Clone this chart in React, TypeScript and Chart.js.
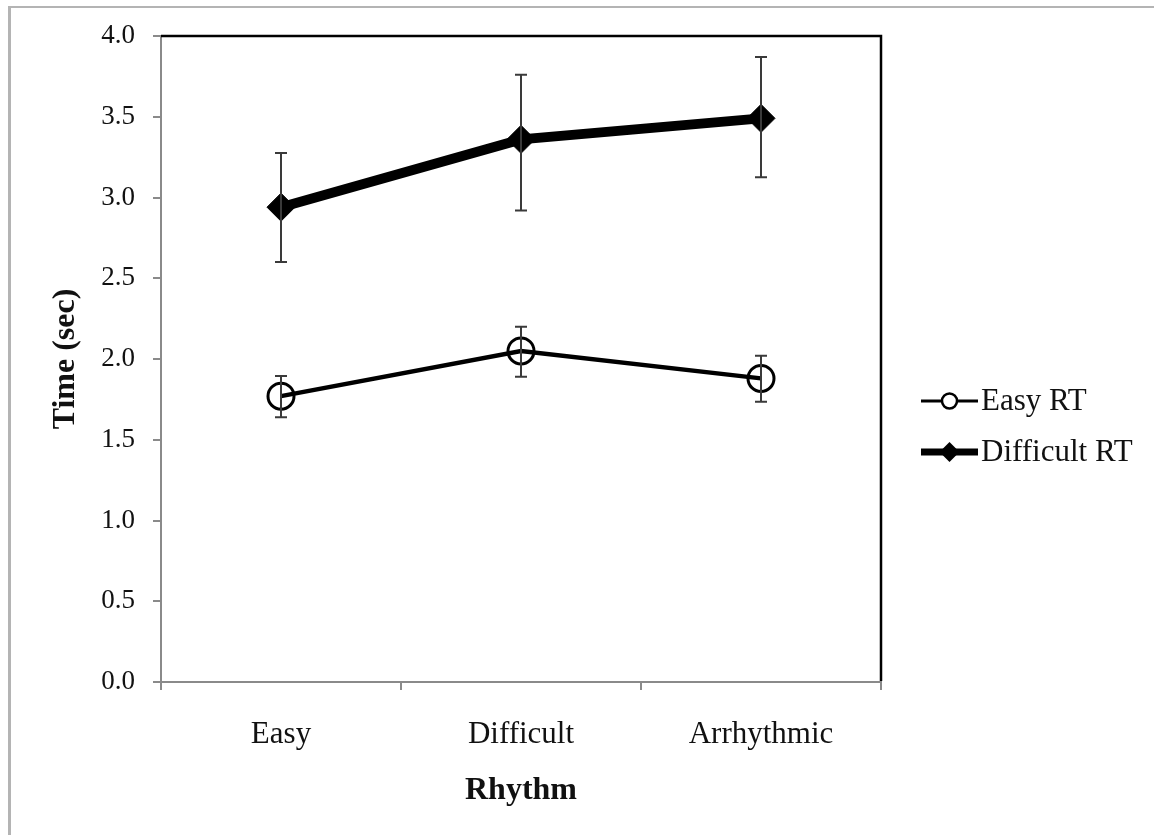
import React, { useEffect, useRef } from "react";
import { Chart, registerables } from "chart.js";

Chart.register(...registerables);

const categories = ["Easy", "Difficult", "Arrhythmic"];
const easyRT = [1.77, 2.05, 1.88];
const easyRTLow = [1.64, 1.89, 1.735];
const easyRTHigh = [1.895, 2.2, 2.02];
const difficultRT = [2.94, 3.36, 3.49];
const difficultRTLow = [2.6, 2.92, 3.125];
const difficultRTHigh = [3.275, 3.76, 3.87];
const seriesNames = ["Easy RT", "Difficult RT"];
const yTitle = "Time (sec)";
const xTitle = "Rhythm";

const FONT = "'Liberation Serif', 'Times New Roman', serif";
const AXIS_GREY = "#8a8a8a";

const errorBars = {
  id: "errorBars",
  afterDatasetsDraw(chart: any) {
    const { ctx, scales } = chart;
    const sets = [
      [easyRTLow, easyRTHigh],
      [difficultRTLow, difficultRTHigh],
    ];
    ctx.save();
    ctx.strokeStyle = "#3a3a3a";
    ctx.lineWidth = 2;
    sets.forEach(([lo, hi]) => {
      categories.forEach((_, i) => {
        const x = scales.x.getPixelForValue(i);
        const y1 = scales.y.getPixelForValue(lo[i]);
        const y2 = scales.y.getPixelForValue(hi[i]);
        ctx.beginPath();
        ctx.moveTo(x, y1);
        ctx.lineTo(x, y2);
        ctx.moveTo(x - 6, y1);
        ctx.lineTo(x + 6, y1);
        ctx.moveTo(x - 6, y2);
        ctx.lineTo(x + 6, y2);
        ctx.stroke();
      });
    });
    ctx.restore();
  },
};

const frame = {
  id: "frame",
  afterDraw(chart: any) {
    const { ctx, chartArea } = chart;
    ctx.save();
    ctx.strokeStyle = "#000";
    ctx.lineWidth = 2.5;
    ctx.beginPath();
    ctx.moveTo(chartArea.left, chartArea.top);
    ctx.lineTo(chartArea.right, chartArea.top);
    ctx.lineTo(chartArea.right, chartArea.bottom - 1);
    ctx.stroke();
    ctx.restore();
  },
};

const customLegend = {
  id: "customLegend",
  afterDraw(chart: any) {
    const { ctx } = chart;
    const x0 = 921;
    const x1 = 978;
    const rows = [401, 452];
    ctx.save();
    chart.data.datasets.forEach((ds: any, i: number) => {
      const y = rows[i];
      ctx.strokeStyle = "#000";
      ctx.lineWidth = i === 0 ? 3 : 7;
      ctx.beginPath();
      ctx.moveTo(x0, y);
      ctx.lineTo(x1, y);
      ctx.stroke();
      const cx = (x0 + x1) / 2;
      ctx.beginPath();
      if (i === 0) {
        ctx.lineWidth = 2.5;
        ctx.fillStyle = "#fff";
        ctx.arc(cx, y, 7.5, 0, Math.PI * 2);
        ctx.fill();
        ctx.stroke();
      } else {
        ctx.fillStyle = "#000";
        ctx.moveTo(cx, y - 10);
        ctx.lineTo(cx + 10, y);
        ctx.lineTo(cx, y + 10);
        ctx.lineTo(cx - 10, y);
        ctx.closePath();
        ctx.fill();
      }
      ctx.fillStyle = "#111";
      ctx.font = `31px ${FONT}`;
      ctx.textAlign = "left";
      ctx.textBaseline = "middle";
      ctx.fillText(ds.label, 981, y + 1);
    });
    ctx.restore();
  },
};

export default function App() {
  const ref = useRef<HTMLCanvasElement>(null);
  useEffect(() => {
    if (!ref.current) return;
    const chart = new Chart(ref.current, {
      type: "line",
      data: {
        labels: categories,
        datasets: [
          {
            label: seriesNames[0],
            data: easyRT,
            borderColor: "#000",
            borderWidth: 4.5,
            pointStyle: "circle",
            pointRadius: 13,
            pointBorderWidth: 3,
            pointBorderColor: "#000",
            pointBackgroundColor: "rgba(0,0,0,0)",
            tension: 0,
          },
          {
            label: seriesNames[1],
            data: difficultRT,
            borderColor: "#000",
            borderWidth: 10,
            pointStyle: "rectRot",
            pointRadius: 14,
            pointBorderWidth: 1,
            pointBorderColor: "#000",
            pointBackgroundColor: "#000",
            tension: 0,
          },
        ],
      },
      options: {
        responsive: false,
        animation: false,
        devicePixelRatio: 1,
        layout: { padding: { top: 36, right: 273, left: 0, bottom: 0 } },
        plugins: { legend: { display: false }, tooltip: { enabled: false } },
        scales: {
          x: {
            type: "category",
            offset: true,
            afterFit: (s: any) => {
              s.height = 153;
            },
            border: { color: AXIS_GREY, width: 2 },
            grid: {
              offset: true,
              drawOnChartArea: false,
              drawTicks: true,
              tickLength: 8,
              color: AXIS_GREY,
              lineWidth: 2,
            },
            ticks: {
              color: "#111",
              font: { family: FONT, size: 31 },
              padding: 26,
            },
            title: {
              display: true,
              text: xTitle,
              color: "#111",
              font: { family: FONT, size: 32, weight: "bold" },
              padding: { top: 0, bottom: 25 },
            },
          },
          y: {
            min: 0,
            max: 4,
            afterFit: (s: any) => {
              s.width = 161;
            },
            border: { color: AXIS_GREY, width: 2 },
            grid: {
              drawOnChartArea: false,
              drawTicks: true,
              tickLength: 8,
              color: AXIS_GREY,
              lineWidth: 2,
            },
            ticks: {
              stepSize: 0.5,
              color: "#111",
              font: { family: FONT, size: 27 },
              padding: 18,
              callback: (v: any) => Number(v).toFixed(1),
            },
            title: {
              display: true,
              text: yTitle,
              color: "#111",
              font: { family: FONT, size: 32, weight: "bold" },
              padding: { top: 47, bottom: 0 },
            },
          },
        },
      },
      plugins: [errorBars, frame, customLegend],
    });
    return () => chart.destroy();
  }, []);
  return (
    <div style={{ position: "fixed", inset: 0, overflow: "hidden", background: "#fff" }}>
      <div
        style={{
          position: "absolute",
          left: 8,
          top: 6,
          width: 1300,
          height: 1000,
          borderTop: "2px solid #b4b4b4",
          borderLeft: "3px solid #b4b4b4",
          boxSizing: "border-box",
        }}
      />
      <canvas ref={ref} width={1154} height={835} style={{ position: "absolute", left: 0, top: 0 }} />
    </div>
  );
}
